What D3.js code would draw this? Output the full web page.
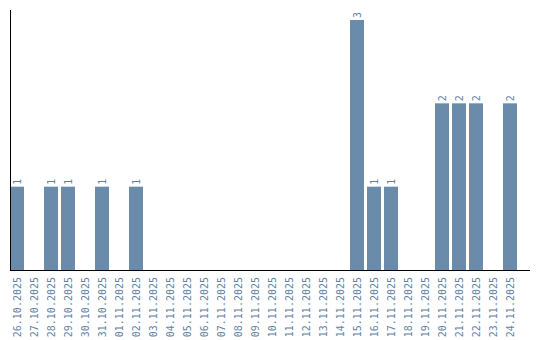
<!DOCTYPE html>
<html><head><meta charset="utf-8">
<script src="https://cdn.jsdelivr.net/npm/d3@7"></script>
<style>body{margin:0;background:#fff}svg{display:block}</style>
</head><body>
<svg id="chart" width="540" height="340"></svg>
<script>
const dates = ["26.10.2025","27.10.2025","28.10.2025","29.10.2025","30.10.2025","31.10.2025","01.11.2025","02.11.2025","03.11.2025","04.11.2025","05.11.2025","06.11.2025","07.11.2025","08.11.2025","09.11.2025","10.11.2025","11.11.2025","12.11.2025","13.11.2025","14.11.2025","15.11.2025","16.11.2025","17.11.2025","18.11.2025","19.11.2025","20.11.2025","21.11.2025","22.11.2025","23.11.2025","24.11.2025"];
const counts = [1,0,1,1,0,1,0,1,0,0,0,0,0,0,0,0,0,0,0,0,3,1,1,0,0,2,2,2,0,2];

const svg = d3.select("#chart");
const barColor = "#6a8caa", textColor = "#5f83a6";
const font = "'DejaVu Sans Mono', monospace";

const x = d3.scaleBand().domain(dates).range([10, 520])
  .paddingInner(3/17).paddingOuter(3/34).align(0);
const y = d3.scaleLinear().domain([0, d3.max(counts) * 1.04]).range([270, 10]);

const data = dates.map((d, i) => ({date: d, v: counts[i]}));

svg.selectAll("rect.bar").data(data.filter(d => d.v > 0)).join("rect")
  .attr("class", "bar")
  .attr("x", d => x(d.date)).attr("width", x.bandwidth())
  .attr("y", d => y(d.v)).attr("height", d => y(0) - y(d.v))
  .attr("fill", barColor);

svg.selectAll("text.val").data(data.filter(d => d.v > 0)).join("text")
  .attr("class", "val")
  .attr("transform", d => `translate(${x(d.date) + x.bandwidth()/2 + 3.5},${y(d.v) - 2}) rotate(-90)`)
  .attr("font-family", font).attr("font-size", 10).attr("fill", textColor)
  .text(d => d.v);

// x axis
const xAxis = svg.append("g").attr("transform", "translate(0,270)")
  .call(d3.axisBottom(x).tickSize(0).tickPadding(0));
xAxis.select(".domain").attr("d", "M10,0.5H530").attr("stroke", "#000");
xAxis.selectAll(".tick text")
  .attr("font-family", font).attr("font-size", 10).attr("fill", textColor)
  .attr("text-anchor", "end").attr("dy", null)
  .attr("transform", "translate(3.5,7) rotate(-90)")
  .attr("y", 0).attr("x", 0);

// y axis
const yAxis = svg.append("g").attr("transform", "translate(10,0)")
  .call(d3.axisLeft(y).ticks(0).tickSize(0));
yAxis.select(".domain").attr("d", "M0.5,10V270").attr("stroke", "#000");
yAxis.selectAll(".tick").remove();
</script>
</body></html>
